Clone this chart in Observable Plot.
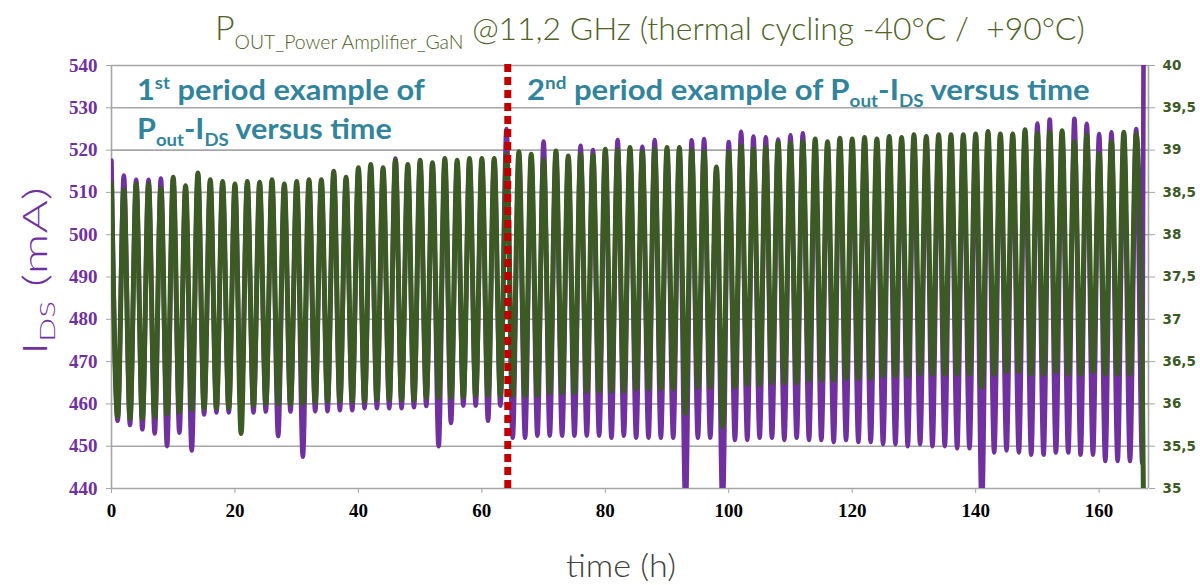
<!DOCTYPE html>
<html><head><meta charset="utf-8">
<script src="https://cdn.jsdelivr.net/npm/d3@7"></script>
<script src="https://cdn.jsdelivr.net/npm/@observablehq/plot@0.6"></script>
<style>
body{margin:0;background:#fff;}
#wrap{position:relative;width:1200px;height:585px;overflow:hidden;}
</style></head><body><div id="wrap"></div>
<script>
// ---- data ----
const cycleHours = 2;               // one thermal cycle every 2 h (peak at 2k, trough at 2k+1)
const periodSplit = 64.2;           // boundary between the two periods (h)
const timeTicks = [0,20,40,60,80,100,120,140,160];
const idsTicks = [440,450,460,470,480,490,500,510,520,530,540];
const poutTicks = [35,35.5,36,36.5,37,37.5,38,38.5,39,39.5,40];

// I_DS (mA): per-cycle maxima and minima
const idsPeaks = [517.5,514,513,513,513.3,513,511,514,512.5,512,511.5,512,512,512.5,511.5,512,512.5,512.5,514.5,513,515,516,515,518,516,517,516.5,517.5,517,517.5,517.5,517.5,
  525,519,518.5,522,519.5,518,521,520,519.8,522.4,520,520.8,522.4,520,520,522.3,522.6,515.5,521.9,524.3,523.2,523,522.5,523.5,524,522,521.5,522.3,522,522.5,522,522.7,522.5,523,522.7,523,523.1,523.1,523.3,523.8,523.3,523.3,524.2,526.3,527.2,524,527.4,526.2,523.8,524.2,523.7,525];
const idsTroughs = [456,455,454,453,450,453.2,449,457.5,458,458,458,458,458.2,452.4,458.2,447.5,458.3,458.3,458.5,458.5,459,459,459,459,459.2,459.5,450,455.5,459.6,459.6,456,459.6,
  452,452,452.5,452.5,452.5,452.5,452.5,452.5,452,452.5,452,452,452,452,435,452,452,435,451.5,451.5,452,452,451.5,452,451.5,451.5,451,451.5,451,451,450.5,450.5,450,450.5,450,450,449.5,449.5,435,448.5,449,448.5,448,448,448.5,448.5,448,448,446.5,446.5,446.5,446];
const idsEnd = {t: 167.2, v: 545};

// P_OUT (dBm): per-cycle maxima and minima
const poutPeaks = [38.60,38.53,38.60,38.60,38.55,38.68,38.58,38.73,38.65,38.63,38.60,38.63,38.62,38.65,38.60,38.63,38.65,38.65,38.75,38.68,38.79,38.83,38.79,38.88,38.83,38.88,38.85,38.90,38.88,38.90,38.90,38.90,
  38.95,38.98,38.95,38.88,38.99,38.93,38.95,38.94,39.01,39.00,39.03,38.98,39.01,39.03,39.03,39.00,38.98,38.80,38.98,39.05,39.01,39.03,39.09,39.08,39.10,39.13,39.10,39.14,39.13,39.15,39.13,39.16,39.15,39.18,39.16,39.18,39.18,39.18,39.19,39.22,39.19,39.19,39.24,39.20,39.21,39.23,39.10,39.18,38.96,39.10,39.21,39.19];
const poutTroughs = [35.85,35.83,35.83,35.85,35.88,35.90,35.93,35.95,35.95,35.95,35.65,35.98,36.00,36.00,36.00,36.00,36.02,36.03,36.03,36.03,36.03,36.05,36.05,36.05,36.05,36.08,36.08,36.08,36.08,36.10,36.10,36.10,
  36.10,36.10,36.10,36.13,36.13,36.13,36.15,36.15,36.15,36.15,36.18,36.18,36.18,36.18,35.89,36.20,36.20,35.73,36.20,36.23,36.23,36.25,36.25,36.25,36.28,36.28,36.28,36.30,36.30,36.30,36.33,36.33,36.33,36.35,36.35,36.35,36.35,36.35,36.20,36.35,36.38,36.38,36.35,36.35,36.38,36.35,36.35,36.38,36.35,36.35,36.35,36.33];
const poutEnd = {t: 167.2, v: 34.7};

// ---- helpers ----
const idsDomain = [440, 540], poutDomain = [35, 40];
const toMA = p => idsDomain[0] + (p - poutDomain[0]) * (idsDomain[1]-idsDomain[0])/(poutDomain[1]-poutDomain[0]);
const fromMA = m => poutDomain[0] + (m - idsDomain[0]) * (poutDomain[1]-poutDomain[0])/(idsDomain[1]-idsDomain[0]);
function wave(peaks, troughs, end) {
  const pts = [];
  peaks.forEach((p, i) => {
    pts.push({t: i*cycleHours, v: p});
    pts.push({t: i*cycleHours + cycleHours/2, v: troughs[i]});
  });
  pts.push(end);
  return pts;
}
const idsPts = wave(idsPeaks, idsTroughs, idsEnd);
const poutPts = wave(poutPeaks, poutTroughs, poutEnd);

const purple = "#7030a0", green = "#3b5a24", grid = "#a6a6a6", teal = "#31849b", red = "#c00000", olive = "#4f6228";

const chart = Plot.plot({
  width: 1200, height: 585,
  marginTop: 65, marginBottom: 97, marginLeft: 111, marginRight: 52,
  x: {domain: [0, 168]},
  y: {domain: idsDomain},
  marks: [
    Plot.ruleY(idsTicks, {stroke: grid, strokeWidth: 1.6}),
    Plot.ruleX([0, 168], {stroke: grid, strokeWidth: 1.6}),
    Plot.line(idsPts, {x: "t", y: "v", stroke: purple, strokeWidth: 4.6, curve: "monotone-x", clip: true, strokeLinejoin: "round"}),
    Plot.line(poutPts, {x: "t", y: d => toMA(d.v), stroke: green, strokeWidth: 5, curve: "monotone-x", clip: true, strokeLinejoin: "round"}),
    Plot.ruleX([periodSplit], {y1: 440, y2: 540.7, stroke: red, strokeWidth: 7, strokeDasharray: "8,5"}),
    Plot.axisY(idsTicks, {anchor: "left", tickSize: 5, tickPadding: 9, label: null, fill: purple, stroke: grid,
      fontFamily: "Liberation Serif", fontWeight: "bold", fontSize: 19}),
    Plot.axisY(poutTicks.map(toMA), {anchor: "right", tickSize: 6, tickPadding: 8, label: null, fill: green, stroke: grid,
      tickFormat: d => String(+fromMA(d).toFixed(1)).replace(".", ","),
      fontFamily: "DejaVu Sans", fontWeight: "bold", fontSize: 13.5}),
    Plot.axisX(timeTicks, {anchor: "bottom", tickSize: 5, tickPadding: 10, label: null, fill: "#000", stroke: grid,
      fontFamily: "Liberation Serif", fontWeight: "bold", fontSize: 19})
  ]
});
document.getElementById("wrap").appendChild(chart);

// ---- texts ----
const svg = d3.select(chart);
function addText(parent, x, y, parts, o) {
  const t = parent.append("text").attr("x", x).attr("y", y)
    .attr("fill", o.color).attr("font-family", o.family).attr("font-weight", o.weight || "normal")
    .attr("text-anchor", o.anchor || "start").style("white-space", "pre");
  let shift = 0;
  for (const [str, size, dy] of parts) {
    t.append("tspan").attr("font-size", size).attr("dy", dy - shift).text(str);
    shift = dy;
  }
  if (o.width) {
    const w = t.node().getBBox().width;
    const s = o.width / w;
    t.attr("transform", `translate(${x},0) scale(${s},1) translate(${-x},0)`);
  }
  return t;
}
const cal = "Lato, 'Open Sans', sans-serif";
addText(svg, 215, 40, [["P", 34, 0], ["OUT_Power Amplifier_GaN", 19.5, 9], [" @11,2 GHz (thermal cycling -40°C /  +90°C)", 32, 0]],
  {color: olive, family: cal, weight: 300, width: 870});
addText(svg, 137, 100, [["1", 28, 0], ["st", 17, -11], [" period example of", 28, 0]],
  {color: teal, family: cal, weight: "bold", width: 288});
addText(svg, 137, 139, [["P", 28, 0], ["out", 17, 7], ["-I", 28, 0], ["DS", 17, 7], [" versus time", 28, 0]],
  {color: teal, family: cal, weight: "bold", width: 255});
addText(svg, 527, 100, [["2", 28, 0], ["nd", 17, -11], [" period example of P", 28, 0], ["out", 17, 7], ["-I", 28, 0], ["DS", 17, 7], [" versus time", 28, 0]],
  {color: teal, family: cal, weight: "bold", width: 563});
const g = svg.append("g").attr("transform", "translate(47,271) rotate(-90)");
addText(g, 0, 0, [["I", 34, 0], ["DS", 21, 8], [" (mA)", 34, 0]], {color: purple, family: cal, weight: 300, anchor: "middle", width: 168});
addText(svg, 621, 577, [["time (h)", 32, 0]], {color: "#404040", family: cal, weight: 300, anchor: "middle", width: 110});
</script></body></html>
